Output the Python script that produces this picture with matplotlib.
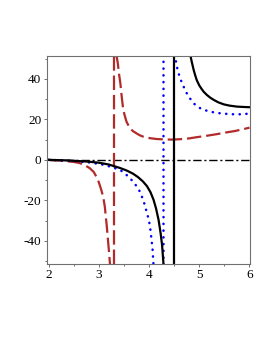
import numpy as np
import matplotlib
matplotlib.use("Agg")
import matplotlib.pyplot as plt
from matplotlib.ticker import MultipleLocator

# values
black_left_x = [2.0, 2.4, 2.8, 3.0, 3.2, 3.42, 3.55, 3.68, 3.78, 3.88, 3.96, 4.03, 4.09,
                4.14, 4.19, 4.23, 4.26, 4.29]
black_left_y = [0.0, -0.3, -0.9, -1.4, -2.3, -4.0, -5.2, -6.8, -8.5, -10.7, -13.0, -16.0, -19.7,
                -24.0, -29.6, -36.0, -42.0, -52.0]
black_right_x = [4.82, 4.85, 4.89, 4.92, 4.95, 5.0, 5.05, 5.09, 5.15, 5.22, 5.29, 5.38,
                 5.49, 5.6, 5.75, 5.9, 6.0]
black_right_y = [52.0, 48.5, 44.3, 41.7, 39.4, 36.8, 34.9, 33.6, 32.1, 30.7, 29.6, 28.4,
                 27.4, 26.8, 26.3, 26.1, 26.0]
black_asym = 4.5

blue_left_x = [2.0, 2.4, 2.82, 3.05, 3.22, 3.42, 3.52, 3.62, 3.7, 3.78, 3.84, 3.88, 3.92,
               3.95, 3.99, 4.02, 4.05, 4.07, 4.09]
blue_left_y = [0.0, -0.4, -1.3, -2.2, -3.3, -4.9, -6.7, -9.0, -11.3, -13.9, -16.8, -19.7, -22.5,
               -25.5, -29.0, -32.8, -39.4, -44.0, -52.0]
blue_right_x = [4.52, 4.54, 4.57, 4.62, 4.69, 4.74, 4.79, 4.89, 4.95, 5.02, 5.12, 5.22, 5.32,
                5.42, 5.55, 5.69, 5.8, 5.92, 6.0]
blue_right_y = [52.0, 48.0, 44.3, 40.2, 36.1, 33.4, 31.2, 27.9, 26.6, 25.5, 24.5, 23.8, 23.3,
                23.0, 22.7, 22.5, 22.5, 22.7, 22.8]
blue_asym = 4.27

red_left_x = [2.0, 2.2, 2.41, 2.52, 2.62, 2.72, 2.82, 2.9, 2.95, 3.0, 3.05, 3.09, 3.12,
              3.16, 3.2, 3.225]
red_left_y = [0.0, -0.3, -0.8, -1.1, -1.6, -2.6, -4.1, -6.0, -8.2, -11.0, -14.8, -18.5, -23.0,
              -32.8, -44.3, -52.0]
red_right_x = [3.35, 3.38, 3.4, 3.43, 3.46, 3.48, 3.51, 3.55, 3.58, 3.62, 3.68, 3.75, 3.82,
               3.9, 4.02, 4.15, 4.3, 4.45, 4.62, 4.8, 4.95, 5.15, 5.35, 5.55, 5.7, 5.85, 6.0]
red_right_y = [52.0, 47.6, 43.0, 37.8, 30.5, 26.3, 22.5, 19.0, 17.5, 15.6, 14.2, 13.1, 12.1,
               11.3, 10.7, 10.3, 10.1, 10.0, 10.2, 10.6, 11.2, 11.9, 12.7, 13.6, 14.2, 15.0, 15.9]
red_asym = 3.3

zero_x = [2.0, 6.0]
zero_y = [0.0, 0.0]

plt.rcParams['font.family'] = ['Liberation Serif', 'DejaVu Serif']
plt.rcParams['axes.unicode_minus'] = False

fig = plt.figure(figsize=(2.73, 3.53), dpi=100)
ax = fig.add_axes([47 / 273, 1 - 263.5 / 353, 203 / 273, 207.5 / 353])

red = '#b22a2a'
blue = '#0000ff'
dash = (0, (6.5, 2.2))
dot = (0, (0.1, 2.6))

ax.plot(zero_x, zero_y, color='black', lw=1.0, linestyle=(0, (6, 2, 1.5, 2)))

ax.plot(red_left_x, red_left_y, color=red, lw=1.6, linestyle=dash)
ax.plot(red_right_x, red_right_y, color=red, lw=1.6, linestyle=dash)
ax.axvline(red_asym, color=red, lw=1.6, linestyle=dash)

ax.plot(blue_left_x, blue_left_y, color=blue, lw=1.8, linestyle=dot, dash_capstyle='round')
ax.plot(blue_right_x, blue_right_y, color=blue, lw=1.8, linestyle=dot, dash_capstyle='round')
ax.axvline(blue_asym, color=blue, lw=1.8, linestyle=dot, dash_capstyle='round')

ax.plot(black_left_x, black_left_y, color='black', lw=1.6)
ax.plot(black_right_x, black_right_y, color='black', lw=1.6)
ax.axvline(black_asym, color='black', lw=1.6)

ax.set_xlim(1.97, 6.01)
ax.set_ylim(-51.2, 51.3)
ax.xaxis.set_major_locator(MultipleLocator(1))
ax.xaxis.set_minor_locator(MultipleLocator(0.5))
ax.yaxis.set_major_locator(MultipleLocator(20))
ax.yaxis.set_minor_locator(MultipleLocator(10))

for s in ax.spines.values():
    s.set_color('#707070')
    s.set_linewidth(0.8)
ax.tick_params(which='major', direction='out', length=2.5, width=0.7, color='#707070',
               labelsize=9.5, pad=1.5)
ax.tick_params(which='minor', direction='out', length=1.5, width=0.7, color='#707070')

fig.savefig('out.png', dpi=100)
